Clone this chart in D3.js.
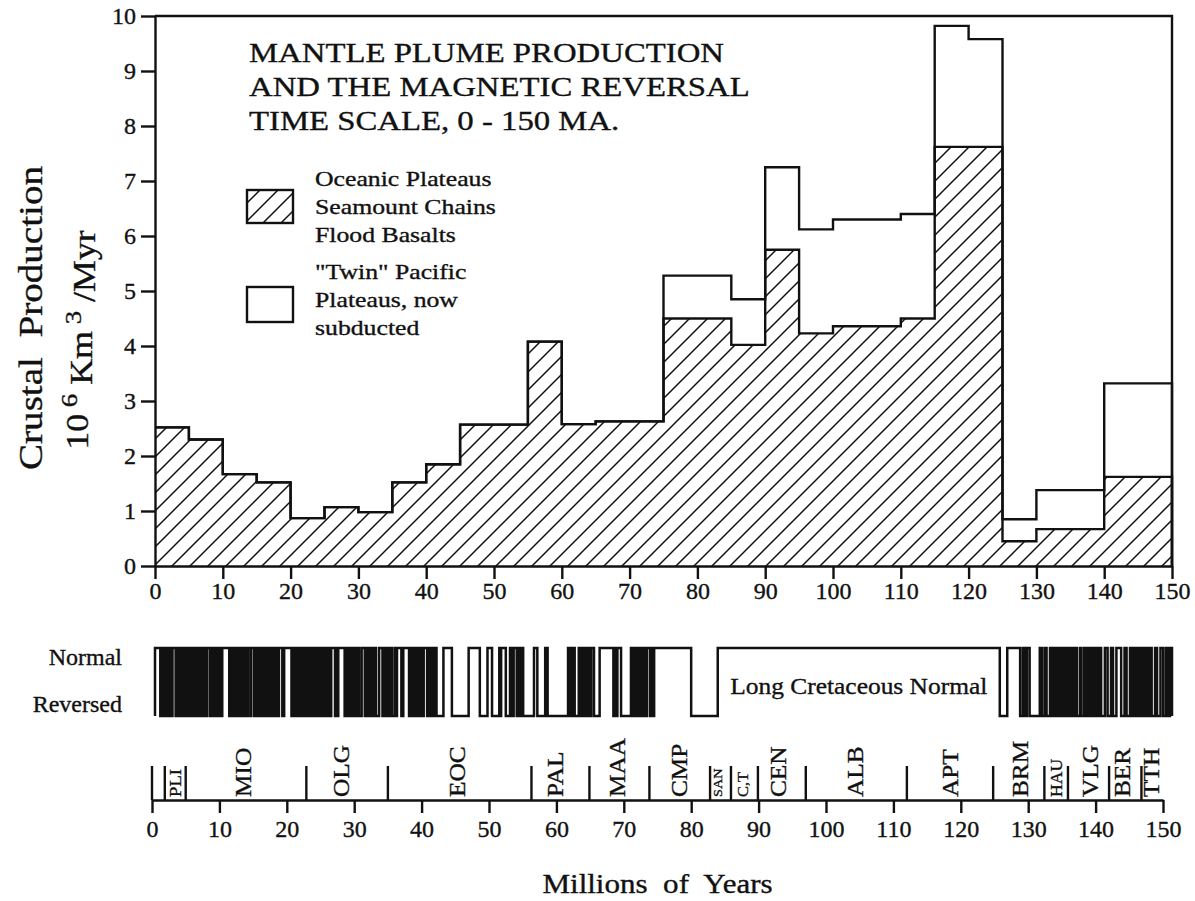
<!DOCTYPE html>
<html>
<head>
<meta charset="utf-8">
<script src="https://cdn.jsdelivr.net/npm/d3@7/dist/d3.min.js"></script>
<style>
    body { margin: 0; background: #fff; }
    text { font-family: "Liberation Serif", "Times New Roman", serif; fill: #111; stroke: #111; stroke-width: 0.35px; }
</style>
</head>
<body>
<div id="chart"></div>
<script>
// histogram bins (Ma)
const binEdges = [0, 5, 10, 15, 20, 25, 30, 35, 40, 45, 50, 55, 60, 65, 70, 75,
    80, 85, 90, 95, 100, 105, 110, 115, 120, 125, 130, 135, 140, 145, 150];

// oceanic plateaus, seamount chains, flood basalts (10^6 km3/Myr)
const plumeValues = [2.52, 2.30, 1.67, 1.52, 0.87, 1.07, 0.98, 1.52, 1.85, 2.57,
    2.57, 4.08, 2.58, 2.63, 2.63, 4.50, 4.50, 4.02, 5.75, 4.23,
    4.36, 4.36, 4.50, 7.62, 7.62, 0.45, 0.67, 0.67, 1.62, 1.62];

// top of the "twin" Pacific plateaus (null = none)
const twinTotals = [null, null, null, null, null, null, null, null, null, null,
    null, null, null, null, null, 5.28, 5.28, 4.85, 7.25, 6.12,
    6.30, 6.30, 6.40, 9.82, 9.58, 0.85, 1.38, 1.38, 3.32, 3.32];

const yTicks = [0, 1, 2, 3, 4, 5, 6, 7, 8, 9, 10];
const xTicks = [0, 10, 20, 30, 40, 50, 60, 70, 80, 90, 100, 110, 120, 130, 140, 150];

// normal polarity intervals [young, old] in Ma
const normalChrons = [
    [0.00, 0.78], [0.99, 1.07], [1.25, 1.33], [1.48, 1.56], [1.77, 1.95], [2.14, 2.15],
    [2.32, 2.40], [2.58, 3.04], [3.11, 3.22], [3.33, 3.58], [3.78, 3.86], [3.96, 4.04],
    [4.18, 4.29], [4.48, 4.62], [4.80, 4.89], [4.98, 5.23], [5.42, 5.50], [5.64, 5.72],
    [5.89, 6.14], [6.27, 6.57], [6.94, 7.09], [7.14, 7.17], [7.34, 7.38], [7.43, 7.56],
    [7.65, 8.07], [8.23, 8.26], [8.45, 8.52], [8.70, 9.03], [9.23, 9.31], [9.58, 9.64],
    [9.74, 9.88], [9.92, 10.95], [11.05, 11.10], [11.27, 11.34], [11.48, 11.53],
    [11.70, 11.78], [11.94, 12.08], [12.18, 12.40], [12.68, 12.71], [12.78, 12.82],
    [12.99, 13.14], [13.30, 13.51], [13.70, 14.08], [14.18, 14.61], [14.80, 14.89],
    [15.03, 15.16], [15.35, 15.43], [15.58, 15.66], [15.80, 15.88], [16.01, 16.29],
    [16.33, 16.49], [16.56, 16.73], [16.95, 17.05], [17.28, 17.62], [17.85, 17.93],
    [18.05, 18.13], [18.28, 18.78], [19.05, 20.13], [20.30, 20.37], [20.52, 20.73],
    [21.00, 21.32], [21.50, 21.58], [21.77, 21.86], [22.15, 22.25], [22.46, 22.49],
    [22.59, 22.75], [22.80, 23.07], [23.35, 23.54], [23.68, 23.80], [24.00, 24.12],
    [24.35, 24.45], [24.73, 24.78], [24.84, 25.18], [25.50, 25.65], [25.82, 25.95],
    [25.99, 26.55], [26.75, 26.83], [27.03, 27.97], [28.28, 28.51], [28.58, 28.75],
    [29.00, 29.10], [29.40, 29.66], [29.77, 30.10], [30.48, 30.94], [31.30, 31.40],
    [31.70, 31.80], [32.10, 32.20], [32.50, 32.60], [33.06, 33.55], [33.90, 34.00],
    [34.25, 34.35], [34.66, 34.94], [35.34, 35.53], [35.69, 36.34], [36.62, 37.47],
    [37.60, 37.85], [37.92, 38.11], [38.43, 38.80], [38.90, 39.20], [39.30, 39.55],
    [39.63, 40.13], [40.40, 40.60], [40.85, 40.95], [41.26, 41.52], [42.54, 43.79],
    [46.26, 47.91], [49.04, 49.71], [50.78, 50.95], [51.05, 51.74], [52.36, 52.66],
    [52.76, 52.80], [52.90, 53.35], [53.50, 53.70], [53.85, 54.00], [54.10, 54.30],
    [55.90, 56.39], [57.55, 57.91], [60.92, 61.28], [61.60, 61.90],
    [62.50, 62.80], [62.95, 63.20], [63.35, 63.63], [63.98, 64.20], [64.35, 64.75],
    [65.58, 67.61], [67.74, 68.00], [68.20, 68.74], [70.20, 70.40], [70.60, 70.80],
    [71.07, 71.34], [71.59, 71.90], [72.05, 72.40], [72.55, 73.00], [73.29, 73.37],
    [73.62, 79.08], [83.00, 124.60],
    [125.70, 127.60], [128.00, 128.30], [128.60, 129.00], [130.50, 130.80], [131.20, 131.50],
    [132.00, 132.30], [132.45, 132.70], [132.85, 133.20], [133.35, 133.60], [133.75, 134.10],
    [134.30, 134.50], [134.65, 135.00], [135.20, 135.50], [135.70, 135.95], [136.40, 136.60],
    [137.00, 137.30], [137.50, 137.80], [137.95, 138.25], [138.40, 138.70], [138.85, 139.10],
    [139.25, 139.55], [140.10, 140.50], [141.00, 141.30], [141.80, 142.50], [143.00, 143.30],
    [143.80, 144.10], [144.40, 144.70], [144.85, 145.15], [145.30, 145.60], [145.75, 146.05],
    [146.20, 146.50], [146.70, 147.00], [147.50, 147.80], [148.30, 148.70], [149.10, 149.40],
    [149.70, 150.00]
];

// geological stages
const stageBoundaries = [0, 1.9, 5.0, 22.9, 35.0, 56.3, 64.9, 73.8, 82.8, 85.9, 89.9,
    97.0, 112.0, 124.8, 132.4, 135.9, 142.0, 146.8];
const stageNames = ["PLI", "MIO", "OLG", "EOC", "PAL", "MAA", "CMP", "SAN", "C,T", "CEN",
    "ALB", "APT", "BRM", "HAU", "VLG", "BER", "TTH"];
const stageLabelAges = [3.4, 13.5, 28.1, 45.3, 59.9, 69.0, 78.3, 83.9, 87.7, 93.0,
    104.3, 118.5, 128.8, 134.2, 139.2, 144.0, 148.3];

const titleLines = ["MANTLE PLUME PRODUCTION", "AND THE MAGNETIC REVERSAL", "TIME SCALE, 0 - 150 MA."];
const legendPlume = ["Oceanic Plateaus", "Seamount Chains", "Flood Basalts"];
const legendTwin = ["\"Twin\" Pacific", "Plateaus, now", "subducted"];

const W = 1195, H = 901;
const stretch = 1.17;
const serif = "\"Liberation Serif\", \"Times New Roman\", serif";

const svg = d3.select("#chart").append("svg")
    .attr("width", W).attr("height", H);

const defs = svg.append("defs");
const hatch = defs.append("pattern")
    .attr("id", "hatch")
    .attr("patternUnits", "userSpaceOnUse")
    .attr("width", 18).attr("height", 18);
hatch.append("path")
    .attr("d", "M0,18 L18,0 M-4.5,4.5 L4.5,-4.5 M13.5,22.5 L22.5,13.5")
    .attr("stroke", "#111").attr("stroke-width", 1.5);

const x = d3.scaleLinear().domain([0, 150]).range([155, 1172]);
const y = d3.scaleLinear().domain([0, 10]).range([566, 16]);
const xStage = d3.scaleLinear().domain([0, 150]).range([152, 1163]);

// ---------- histogram ----------
const plumeSteps = [], totalSteps = [];
plumeValues.forEach((v, i) => {
    plumeSteps.push({ t: binEdges[i], v: v }, { t: binEdges[i + 1], v: v });
    const tv = twinTotals[i] === null ? v : twinTotals[i];
    totalSteps.push({ t: binEdges[i], v: tv }, { t: binEdges[i + 1], v: tv });
});

const area = d3.area().x(d => x(d.t)).y0(y(0)).y1(d => y(d.v));
const line = d3.line().x(d => x(d.t)).y(d => y(d.v));

svg.append("path")
    .datum(plumeSteps)
    .attr("d", area)
    .attr("fill", "url(#hatch)");

svg.append("path")
    .datum(plumeSteps.concat([{ t: 150, v: 0 }]))
    .attr("d", line)
    .attr("fill", "none").attr("stroke", "#111").attr("stroke-width", 2.4);

svg.append("path")
    .datum(totalSteps.concat([{ t: 150, v: 0 }]))
    .attr("d", line)
    .attr("fill", "none").attr("stroke", "#111").attr("stroke-width", 2.4);

// axes
const yAxis = svg.append("g")
    .attr("transform", `translate(${x(0)},0)`)
    .call(d3.axisLeft(y).tickValues(yTicks).tickSize(14).tickSizeOuter(0).tickPadding(5));
const xAxis = svg.append("g")
    .attr("transform", `translate(0,${y(0)})`)
    .call(d3.axisBottom(x).tickValues(xTicks).tickSize(13).tickSizeOuter(0).tickPadding(3));

[yAxis, xAxis].forEach(g => {
    g.selectAll("path, line").attr("stroke", "#111").attr("stroke-width", 2.4);
    g.selectAll("text").style("font-size", "24px")
        .style("font-family", serif).attr("fill", "#111");
});

// frame top and right
svg.append("path")
    .attr("d", `M${x(0)},${y(10)} H${x(150)} V${y(0)}`)
    .attr("fill", "none").attr("stroke", "#111").attr("stroke-width", 2.4);

// y axis title
svg.append("text")
    .attr("transform", `translate(42,318) rotate(-90) scale(1.15,1)`)
    .attr("text-anchor", "middle")
    .style("font-size", "34px").style("white-space", "pre")
    .text("Crustal  Production");

const unit = svg.append("text")
    .attr("transform", `translate(88,340) rotate(-90) scale(1.12,1)`)
    .attr("text-anchor", "middle")
    .style("font-size", "32px").style("white-space", "pre");
unit.append("tspan").text("10");
unit.append("tspan").attr("dy", "-0.45em").style("font-size", "24px").text(" 6");
unit.append("tspan").attr("dy", "0.45em").text(" Km");
unit.append("tspan").attr("dy", "-0.45em").style("font-size", "24px").text(" 3");
unit.append("tspan").attr("dy", "0.45em").text(" /Myr");

// title
titleLines.forEach((t, i) => {
    svg.append("text")
        .attr("transform", `translate(249,${62 + i * 34}) scale(${stretch},1)`)
        .style("font-size", "28px")
        .text(t);
});

// legend
svg.append("rect")
    .attr("x", 247).attr("y", 190).attr("width", 46).attr("height", 33)
    .attr("fill", "url(#hatch)").attr("stroke", "#111").attr("stroke-width", 2.4);
svg.append("rect")
    .attr("x", 247).attr("y", 287).attr("width", 46).attr("height", 35)
    .attr("fill", "#fff").attr("stroke", "#111").attr("stroke-width", 2.4);

legendPlume.forEach((t, i) => {
    svg.append("text")
        .attr("transform", `translate(315,${186 + i * 28}) scale(${stretch},1)`)
        .style("font-size", "22px").text(t);
});
legendTwin.forEach((t, i) => {
    svg.append("text")
        .attr("transform", `translate(315,${279 + i * 28}) scale(${stretch},1)`)
        .style("font-size", "22px").text(t);
});

// ---------- magnetic reversal time scale ----------
const yN = 648, yR = 716;
let wave = `M${x(0)},${yR}`;
normalChrons.forEach(c => {
    wave += ` H${x(c[0])} V${yN} H${x(c[1])} V${yR}`;
});
svg.append("path")
    .attr("d", wave)
    .attr("fill", "none").attr("stroke", "#111").attr("stroke-width", 2.5);

svg.append("text").attr("x", 122).attr("y", 665).attr("text-anchor", "end")
    .style("font-size", "24px").text("Normal");
svg.append("text").attr("x", 122).attr("y", 712).attr("text-anchor", "end")
    .style("font-size", "24px").text("Reversed");

const longNormal = normalChrons.reduce((a, b) => (b[1] - b[0] > a[1] - a[0] ? b : a));
svg.append("text")
    .attr("transform", `translate(${x((longNormal[0] + longNormal[1]) / 2)},694) scale(1.06,1)`)
    .attr("text-anchor", "middle")
    .style("font-size", "24px").text("Long Cretaceous Normal");

// ---------- geological stages ----------
const stageY = 800;
const stageAxis = svg.append("g")
    .attr("transform", `translate(0,${stageY})`)
    .call(d3.axisBottom(xStage).tickValues(xTicks).tickSize(13).tickSizeOuter(0).tickPadding(7));
stageAxis.selectAll("path, line").attr("stroke", "#111").attr("stroke-width", 2.4);
stageAxis.selectAll("text").style("font-size", "24px")
    .style("font-family", serif).attr("fill", "#111");

svg.selectAll(".stageBound")
    .data(stageBoundaries)
    .enter().append("line")
    .attr("class", "stageBound")
    .attr("x1", d => xStage(d)).attr("x2", d => xStage(d))
    .attr("y1", stageY).attr("y2", stageY - 34)
    .attr("stroke", "#111").attr("stroke-width", 2.4);

const smallStage = { "PLI": 17, "SAN": 13, "C,T": 15, "HAU": 16 };
svg.selectAll(".stageLabel")
    .data(stageNames)
    .enter().append("text")
    .attr("class", "stageLabel")
    .attr("transform", (d, i) => {
        const fs = smallStage[d] || 23;
        return `translate(${xStage(stageLabelAges[i]) + fs * 0.33},${stageY - 3}) rotate(-90) scale(1.1,1)`;
    })
    .style("font-size", d => (smallStage[d] || 23) + "px")
    .text(d => d);

svg.append("text")
    .attr("transform", `translate(${xStage(75)},893) scale(1.15,1)`)
    .attr("text-anchor", "middle")
    .style("font-size", "27px").style("white-space", "pre")
    .text("Millions  of  Years");
</script>
</body>
</html>
